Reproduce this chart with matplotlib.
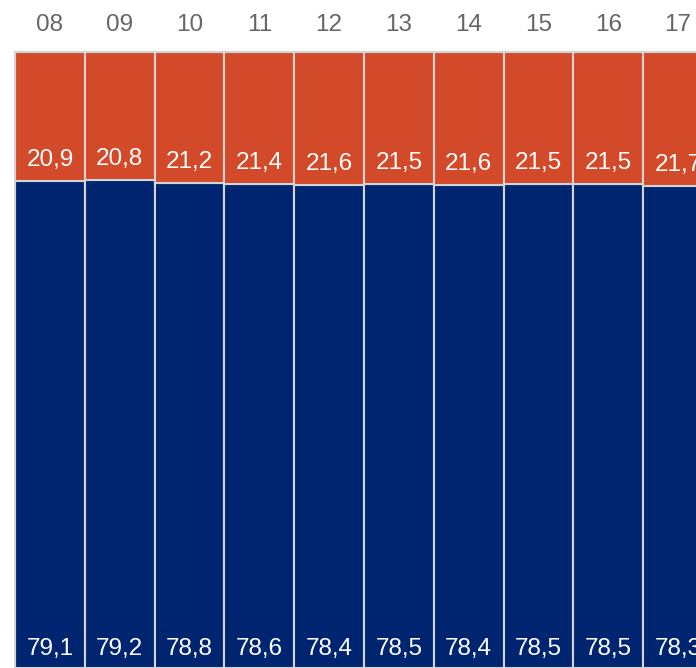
import numpy as np
import matplotlib.pyplot as plt

plt.rcParams['font.family'] = ['Liberation Sans', 'DejaVu Sans']

# share per year, in percent
years = ['08', '09', '10', '11', '12', '13', '14', '15', '16', '17']
share_top = [20.9, 20.8, 21.2, 21.4, 21.6, 21.5, 21.6, 21.5, 21.5, 21.7]
share_bottom = [79.1, 79.2, 78.8, 78.6, 78.4, 78.5, 78.4, 78.5, 78.5, 78.3]

orange = '#d24a29'
navy = '#002570'
edge = '#d4d4d4'

fig = plt.figure(figsize=(6.96, 6.68), dpi=100)
# axes runs off the right edge so the last column is cut
ax = fig.add_axes([15 / 696, 0, 698 / 696, 616 / 668])

x = np.arange(len(years))
ax.bar(x, share_bottom, width=1.0, color=navy, edgecolor=edge, linewidth=1.5)
ax.bar(x, share_top, bottom=share_bottom, width=1.0, color=orange,
       edgecolor=edge, linewidth=1.5)

def fmt(v):
    return f'{v:.1f}'.replace('.', ',')

for i in range(len(years)):
    ax.annotate(fmt(share_top[i]), xy=(x[i], share_bottom[i]),
                xytext=(0, 21), textcoords='offset pixels',
                ha='center', va='center', color='white', fontsize=17.5)
    ax.annotate(fmt(share_bottom[i]), xy=(x[i], 0),
                xytext=(0, 19), textcoords='offset pixels',
                ha='center', va='center', color='white', fontsize=17.5)

ax.set_xlim(-0.5, len(years) - 0.5)
ax.set_ylim(0, 100)
ax.xaxis.tick_top()
ax.set_xticks(x)
ax.set_xticklabels(years, fontsize=17.5, color='#666666')
ax.tick_params(axis='x', length=0, pad=11.5)
ax.set_yticks([])
for side in ['right', 'bottom']:
    ax.spines[side].set_visible(False)
for side in ['left', 'top']:
    ax.spines[side].set_color(edge)
    ax.spines[side].set_linewidth(1.5)

fig.savefig('out.png', dpi=100)
